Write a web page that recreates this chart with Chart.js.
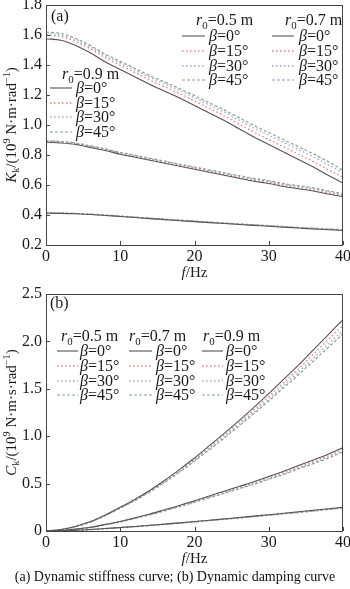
<!DOCTYPE html>
<html>
<head>
<meta charset="utf-8">
<script src="https://cdn.jsdelivr.net/npm/chart.js@4.4.1/dist/chart.umd.min.js"></script>
<style>
  html, body { margin: 0; padding: 0; background: #fff; }
  #wrap { position: relative; width: 350px; height: 589px; overflow: hidden; }
  canvas { position: absolute; left: 0; }
  #chartK { top: 0; }
  #chartC { top: 285px; }
  #caption {
    position: absolute; left: 0; top: 569px; width: 350px;
    text-align: center; line-height: 16px; color: #111;
    font: 14px "Liberation Serif", "Times New Roman", serif;
  }
</style>
</head>
<body>
<div id="wrap">
  <canvas id="chartK" width="350" height="285"></canvas>
  <canvas id="chartC" width="350" height="285"></canvas>
  <div id="caption">(a) Dynamic stiffness curve; (b) Dynamic damping curve</div>
</div>
<script>
/* =====================================================
   Dynamic stiffness / damping curves – Chart.js
   ===================================================== */

const SERIF = '"Liberation Serif", "Times New Roman", Times, serif';
const TEXT_COLOR = '#1a1a1a';
const AXIS_COLOR = '#444444';

// ===================== DATA =====================
const FREQ = [0, 2, 4, 6, 8, 10, 12, 14, 16, 18, 20, 22, 24, 26, 28, 30, 32, 34, 36, 38, 40];
const X_TICKS = [0, 10, 20, 30, 40];
const K_TICKS = [0.2, 0.4, 0.6, 0.8, 1.0, 1.2, 1.4, 1.6, 1.8];
const C_TICKS = [0, 0.5, 1.0, 1.5, 2.0, 2.5];

const R0_LABELS = ['0.5', '0.7', '0.9'];
const BETA_LABELS = ['0', '15', '30', '45'];

// stiffness Kk (10^9 N·m·rad^-1)
const K_R05_B0  = [0.412, 0.411, 0.408, 0.403, 0.397, 0.390, 0.383, 0.376, 0.369, 0.362, 0.356, 0.349, 0.343, 0.337, 0.331, 0.325, 0.319, 0.313, 0.307, 0.302, 0.297];
const K_R05_B15 = [0.413, 0.412, 0.409, 0.404, 0.398, 0.391, 0.384, 0.377, 0.370, 0.364, 0.357, 0.351, 0.345, 0.339, 0.333, 0.327, 0.321, 0.315, 0.309, 0.304, 0.299];
const K_R05_B30 = [0.414, 0.413, 0.410, 0.405, 0.399, 0.392, 0.385, 0.378, 0.372, 0.365, 0.359, 0.352, 0.346, 0.340, 0.334, 0.328, 0.322, 0.316, 0.311, 0.306, 0.301];
const K_R05_B45 = [0.414, 0.413, 0.410, 0.406, 0.400, 0.393, 0.386, 0.379, 0.373, 0.366, 0.360, 0.353, 0.347, 0.341, 0.335, 0.329, 0.323, 0.317, 0.312, 0.307, 0.302];

const K_R07_B0  = [0.885, 0.880, 0.870, 0.850, 0.830, 0.805, 0.785, 0.765, 0.745, 0.725, 0.705, 0.685, 0.665, 0.645, 0.625, 0.610, 0.590, 0.575, 0.560, 0.540, 0.522];
const K_R07_B15 = [0.890, 0.885, 0.875, 0.856, 0.836, 0.811, 0.791, 0.771, 0.751, 0.731, 0.712, 0.692, 0.672, 0.652, 0.632, 0.618, 0.598, 0.583, 0.568, 0.548, 0.531];
const K_R07_B30 = [0.893, 0.888, 0.878, 0.859, 0.839, 0.815, 0.795, 0.775, 0.756, 0.736, 0.716, 0.697, 0.677, 0.658, 0.638, 0.624, 0.604, 0.590, 0.575, 0.556, 0.538];
const K_R07_B45 = [0.895, 0.890, 0.880, 0.861, 0.841, 0.817, 0.798, 0.778, 0.759, 0.739, 0.720, 0.701, 0.681, 0.662, 0.643, 0.629, 0.609, 0.595, 0.581, 0.561, 0.542];

const K_R09_B0  = [1.575, 1.565, 1.530, 1.480, 1.420, 1.370, 1.320, 1.270, 1.225, 1.180, 1.130, 1.080, 1.030, 0.975, 0.920, 0.870, 0.820, 0.770, 0.720, 0.665, 0.613];
const K_R09_B15 = [1.600, 1.590, 1.556, 1.507, 1.448, 1.398, 1.349, 1.299, 1.254, 1.210, 1.160, 1.111, 1.061, 1.007, 0.953, 0.903, 0.854, 0.805, 0.756, 0.702, 0.653];
const K_R09_B30 = [1.610, 1.600, 1.567, 1.519, 1.461, 1.413, 1.365, 1.317, 1.273, 1.230, 1.182, 1.134, 1.086, 1.033, 0.980, 0.932, 0.884, 0.836, 0.788, 0.735, 0.683];
const K_R09_B45 = [1.620, 1.610, 1.577, 1.529, 1.472, 1.424, 1.377, 1.329, 1.286, 1.243, 1.196, 1.148, 1.101, 1.049, 0.997, 0.950, 0.902, 0.855, 0.808, 0.756, 0.698];

// damping Ck (10^9 N·m·s·rad^-1)
const C_R05_B0  = [0, 0.003, 0.008, 0.016, 0.026, 0.037, 0.048, 0.060, 0.073, 0.086, 0.100, 0.114, 0.128, 0.142, 0.157, 0.172, 0.187, 0.203, 0.219, 0.235, 0.251];
const C_R05_B15 = [0, 0.003, 0.008, 0.016, 0.025, 0.036, 0.047, 0.059, 0.072, 0.085, 0.098, 0.112, 0.126, 0.140, 0.155, 0.169, 0.184, 0.200, 0.215, 0.231, 0.247];
const C_R05_B30 = [0, 0.003, 0.008, 0.015, 0.025, 0.036, 0.047, 0.058, 0.071, 0.084, 0.097, 0.111, 0.125, 0.139, 0.153, 0.167, 0.182, 0.197, 0.212, 0.228, 0.244];
const C_R05_B45 = [0, 0.003, 0.007, 0.015, 0.025, 0.035, 0.046, 0.058, 0.070, 0.083, 0.096, 0.110, 0.123, 0.137, 0.151, 0.166, 0.180, 0.195, 0.210, 0.226, 0.241];

const C_R07_B0  = [0, 0.005, 0.020, 0.040, 0.070, 0.100, 0.140, 0.180, 0.225, 0.270, 0.320, 0.370, 0.420, 0.470, 0.520, 0.575, 0.630, 0.690, 0.750, 0.810, 0.880];
const C_R07_B15 = [0, 0.005, 0.019, 0.039, 0.068, 0.098, 0.137, 0.176, 0.220, 0.264, 0.313, 0.362, 0.411, 0.460, 0.509, 0.563, 0.617, 0.675, 0.734, 0.793, 0.862];
const C_R07_B30 = [0, 0.004, 0.018, 0.038, 0.067, 0.096, 0.134, 0.173, 0.216, 0.259, 0.307, 0.355, 0.403, 0.451, 0.499, 0.552, 0.605, 0.662, 0.720, 0.778, 0.845];
const C_R07_B45 = [0, 0.004, 0.018, 0.037, 0.066, 0.095, 0.133, 0.171, 0.213, 0.256, 0.303, 0.350, 0.398, 0.445, 0.493, 0.545, 0.597, 0.654, 0.711, 0.768, 0.835];

const C_R09_B0  = [0, 0.015, 0.050, 0.100, 0.170, 0.250, 0.335, 0.430, 0.535, 0.650, 0.770, 0.900, 1.030, 1.165, 1.305, 1.450, 1.600, 1.750, 1.910, 2.070, 2.230];
const C_R09_B15 = [0, 0.014, 0.048, 0.098, 0.167, 0.246, 0.330, 0.423, 0.526, 0.638, 0.756, 0.883, 1.010, 1.142, 1.278, 1.418, 1.563, 1.710, 1.863, 2.015, 2.170];
const C_R09_B30 = [0, 0.013, 0.046, 0.096, 0.164, 0.242, 0.325, 0.417, 0.518, 0.628, 0.744, 0.868, 0.992, 1.122, 1.255, 1.392, 1.533, 1.675, 1.823, 1.970, 2.120];
const C_R09_B45 = [0, 0.013, 0.045, 0.095, 0.162, 0.240, 0.322, 0.413, 0.513, 0.622, 0.737, 0.858, 0.980, 1.108, 1.238, 1.372, 1.510, 1.648, 1.792, 1.935, 2.080];

const K_SERIES = [
  [K_R05_B0, K_R05_B15, K_R05_B30, K_R05_B45],
  [K_R07_B0, K_R07_B15, K_R07_B30, K_R07_B45],
  [K_R09_B0, K_R09_B15, K_R09_B30, K_R09_B45]
];
const C_SERIES = [
  [C_R05_B0, C_R05_B15, C_R05_B30, C_R05_B45],
  [C_R07_B0, C_R07_B15, C_R07_B30, C_R07_B45],
  [C_R09_B0, C_R09_B15, C_R09_B30, C_R09_B45]
];

// one style per beta
const BETA_STYLES = [
  { color: '#555555', dash: [], width: 1.1 },
  { color: '#dd8080', dash: [1.5, 2.5], width: 1.3 },
  { color: '#a0a0d8', dash: [1.5, 2.5], width: 1.3 },
  { color: '#80aa80', dash: [3, 2], width: 1.2 }
];

// ===================== RICH TEXT =====================
// runs: [{ t, it, sub, sup }]
function richWidth(ctx, runs, size) {
  let w = 0;
  runs.forEach(r => {
    const s = (r.sub || r.sup) ? size * 0.68 : size;
    ctx.font = (r.it ? 'italic ' : '') + s + 'px ' + SERIF;
    w += ctx.measureText(r.t).width;
  });
  return w;
}

function drawRich(ctx, runs, x, cy, size) {
  let cx = x;
  const base = cy + size * 0.34;
  ctx.textBaseline = 'alphabetic';
  ctx.textAlign = 'left';
  runs.forEach(r => {
    const s = (r.sub || r.sup) ? size * 0.68 : size;
    ctx.font = (r.it ? 'italic ' : '') + s + 'px ' + SERIF;
    const dy = r.sub ? size * 0.22 : (r.sup ? -size * 0.38 : 0);
    ctx.fillText(r.t, cx, base + dy);
    cx += ctx.measureText(r.t).width;
  });
}

// ===================== DECOR PLUGIN =====================
const decorPlugin = {
  id: 'decor',
  afterDraw(chart, args, opts) {
    const ctx = chart.ctx;
    const area = chart.chartArea;
    const xs = chart.scales.x;
    const ys = chart.scales.y;
    const size = opts.fontSize;

    ctx.save();
    ctx.fillStyle = TEXT_COLOR;
    ctx.strokeStyle = AXIS_COLOR;
    ctx.lineWidth = 1;
    ctx.setLineDash([]);

    // frame
    ctx.strokeRect(area.left + 0.5, area.top + 0.5, area.right - area.left - 1, area.bottom - area.top);

    // inner ticks
    ctx.beginPath();
    ys.ticks.forEach(t => {
      const y = Math.round(ys.getPixelForValue(t.value)) + 0.5;
      ctx.moveTo(area.left, y);
      ctx.lineTo(area.left + 4, y);
    });
    xs.ticks.forEach(t => {
      const x = Math.round(xs.getPixelForValue(t.value)) + 0.5;
      ctx.moveTo(x, area.bottom);
      ctx.lineTo(x, area.bottom - 4);
    });
    ctx.stroke();

    // panel tag
    drawRich(ctx, [{ t: opts.tag }], opts.tagX, opts.tagY, size);

    // x title
    const xRuns = [{ t: 'f', it: true }, { t: '/Hz' }];
    const xw = richWidth(ctx, xRuns, opts.titleSize);
    drawRich(ctx, xRuns, (area.left + area.right) / 2 - xw / 2, opts.xTitleY, opts.titleSize);

    // y title (rotated)
    const yw = richWidth(ctx, opts.yTitle, opts.titleSize);
    ctx.save();
    ctx.translate(opts.yTitleX, (area.top + area.bottom) / 2);
    ctx.rotate(-Math.PI / 2);
    drawRich(ctx, opts.yTitle, -yw / 2, 0, opts.titleSize);
    ctx.restore();

    // grouped legends
    opts.legends.forEach((g, gi) => {
      drawRich(ctx, [{ t: 'r', it: true }, { t: '0', sub: true }, { t: '=' + R0_LABELS[gi] + ' m' }], g.hx, g.hy, size);
      BETA_LABELS.forEach((b, bi) => {
        const st = BETA_STYLES[bi];
        const y = g.rows[bi];
        ctx.save();
        ctx.strokeStyle = st.color;
        ctx.lineWidth = st.width;
        ctx.setLineDash(st.dash);
        ctx.beginPath();
        ctx.moveTo(g.lx1, y);
        ctx.lineTo(g.lx2, y);
        ctx.stroke();
        ctx.restore();
        drawRich(ctx, [{ t: 'β', it: true }, { t: '=' + b + '°' }], g.tx, y, size);
      });
    });

    ctx.restore();
  }
};

// ===================== BUILD =====================
function buildDatasets(series) {
  const datasets = [];
  series.forEach(group => {
    group.forEach((values, bi) => {
      const st = BETA_STYLES[bi];
      datasets.push({
        data: FREQ.map((f, i) => ({ x: f, y: values[i] })),
        borderColor: st.color,
        borderDash: st.dash,
        borderWidth: st.width,
        pointRadius: 0,
        cubicInterpolationMode: 'monotone',
        fill: false,
        order: bi === 0 ? 0 : 1
      });
    });
  });
  return datasets;
}

function renderPanel(id, series, yTicks, yFormat, padTop, xHeight, decor) {
  return new Chart(document.getElementById(id), {
    type: 'line',
    data: { datasets: buildDatasets(series) },
    plugins: [decorPlugin],
    options: {
      responsive: false,
      animation: false,
      layout: { padding: { left: 0, right: 7, top: padTop, bottom: 0 } },
      plugins: {
        legend: { display: false },
        tooltip: { enabled: false },
        decor: decor
      },
      scales: {
        x: {
          type: 'linear',
          min: X_TICKS[0],
          max: X_TICKS[X_TICKS.length - 1],
          grid: { display: false, drawTicks: false },
          border: { display: false },
          ticks: { color: TEXT_COLOR, padding: 2, font: { family: SERIF, size: 16 }, maxRotation: 0 },
          afterBuildTicks: s => { s.ticks = X_TICKS.map(v => ({ value: v })); },
          afterFit: s => { s.height = xHeight; s.paddingLeft = 0; s.paddingRight = 0; }
        },
        y: {
          type: 'linear',
          min: yTicks[0],
          max: yTicks[yTicks.length - 1],
          grid: { display: false, drawTicks: false },
          border: { display: false },
          ticks: { color: TEXT_COLOR, padding: 4, font: { family: SERIF, size: 16 }, callback: yFormat },
          afterBuildTicks: s => { s.ticks = yTicks.map(v => ({ value: v })); },
          afterFit: s => { s.width = 46; s.paddingTop = 0; s.paddingBottom = 0; }
        }
      }
    }
  });
}

// (a) stiffness
renderPanel('chartK', K_SERIES, K_TICKS, v => v.toFixed(1), 5, 40, {
  fontSize: 16,
  titleSize: 15,
  tag: '(a)', tagX: 51, tagY: 16,
  xTitleY: 272,
  yTitleX: 11,
  yTitle: [{ t: 'K', it: true }, { t: 'k', sub: true }, { t: '/(10' }, { t: '9', sup: true },
           { t: ' N·m·rad' }, { t: '−1', sup: true }, { t: ')' }],
  legends: [
    { hx: 196, hy: 20, lx1: 182, lx2: 205, tx: 209, rows: [36, 51, 66, 80] },
    { hx: 285, hy: 20, lx1: 272, lx2: 294, tx: 299, rows: [36, 51, 66, 80] },
    { hx: 62, hy: 74, lx1: 50, lx2: 72, tx: 76, rows: [88, 103, 117, 132] }
  ]
});

// (b) damping
renderPanel('chartC', C_SERIES, C_TICKS, v => (v === 0 ? '0' : v.toFixed(1)), 9, 39, {
  fontSize: 16,
  titleSize: 15,
  tag: '(b)', tagX: 50, tagY: 18,
  xTitleY: 273,
  yTitleX: 11,
  yTitle: [{ t: 'C', it: true }, { t: 'k', sub: true }, { t: '/(10' }, { t: '9', sup: true },
           { t: ' N·m·s·rad' }, { t: '−1', sup: true }, { t: ')' }],
  legends: [
    { hx: 61, hy: 51, lx1: 57, lx2: 78, tx: 80, rows: [66, 81, 96, 110] },
    { hx: 129, hy: 51, lx1: 129, lx2: 152, tx: 156, rows: [66, 81, 96, 110] },
    { hx: 203, hy: 51, lx1: 202, lx2: 223, tx: 226, rows: [66, 81, 96, 110] }
  ]
});
</script>
</body>
</html>
